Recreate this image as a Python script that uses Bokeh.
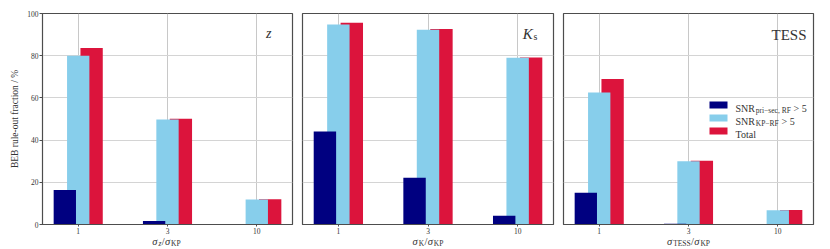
from bokeh.plotting import figure
from bokeh.models import Range1d, FixedTicker, ColumnDataSource, Label, BoxAnnotation
from bokeh.transform import dodge
from bokeh.layouts import row, column
from bokeh.embed import file_html
from bokeh.resources import INLINE

ratios = ["1", "3", "10"]
pri_sec_z = [16.4, 1.6, 0.1]
kp_rf_z = [80.0, 49.8, 11.8]
total_z = [83.6, 50.1, 12.0]
pri_sec_k = [44.1, 22.1, 4.1]
kp_rf_k = [94.8, 92.3, 79.0]
total_k = [95.6, 92.6, 79.1]
pri_sec_t = [15.0, 0.4, 0.1]
kp_rf_t = [62.6, 30.0, 6.8]
total_t = [68.9, 30.2, 6.9]
y_ticks = [0, 20, 40, 60, 80, 100]

NAVY = "#000080"
SKY = "#87CEEB"
CRIMSON = "#DC143C"
TXT = "#333333"
FONT = "Liberation Serif"

# approximate advance widths (em) for placing composed text pieces
WID = {"S": .556, "N": .722, "R": .667, "T": .611, "o": .5, "t": .278, "a": .444,
       "l": .278, " ": .25, ">": .564, "5": .5, "p": .5, "r": .333, "i": .278,
       "\u2212": .564, "s": .389, "e": .444, "c": .444, ",": .25, "F": .556,
       "K": .722, "P": .556, "E": .611, "/": .278, "\u03c3": .56, "z": .389}


def twidth(t, size):
    return sum(WID.get(ch, .5) for ch in t) * size


def compose(p, pieces, x, y, align="left", gap=0.0):
    total = sum(twidth(t, s) for t, s, st, dy in pieces) + gap * (len(pieces) - 1)
    cur = x - total / 2 if align == "center" else (x - total if align == "right" else x)
    for t, s, st, dy in pieces:
        p.add_layout(Label(x=cur, y=y + dy, x_units="screen", y_units="screen", text=t,
                           text_font=FONT, text_font_size=f"{s}px", text_font_style=st,
                           text_align="left", text_baseline="alphabetic", text_color=TXT))
        cur += twidth(t, s) + gap


def panel(pri, kp, tot, width, left, right, first):
    idx = list(range(len(ratios)))
    src = ColumnDataSource(dict(idx=idx, pri=pri, kp=kp, tot=tot))
    p = figure(width=width, height=236, x_range=Range1d(-0.4, 2.4), y_range=Range1d(0, 100),
               output_backend="svg", toolbar_location=None,
               min_border_left=left, min_border_right=right, min_border_top=13, min_border_bottom=12)
    p.background_fill_color = "white"
    p.outline_line_color = "#4d4d4d"
    p.outline_line_width = 1.2
    p.vbar(x=dodge("idx", 0.15, range=p.x_range), top="tot", width=0.25, source=src,
           fill_color=CRIMSON, line_color=None)
    p.vbar(x=dodge("idx", 0.0, range=p.x_range), top="kp", width=0.25, source=src,
           fill_color=SKY, line_color=None)
    p.vbar(x=dodge("idx", -0.15, range=p.x_range), top="pri", width=0.25, source=src,
           fill_color=NAVY, line_color=None)

    p.xaxis.ticker = FixedTicker(ticks=idx)
    p.xaxis.major_label_overrides = {i: r for i, r in enumerate(ratios)}
    p.yaxis.ticker = FixedTicker(ticks=y_ticks)
    p.xgrid.ticker = FixedTicker(ticks=idx)
    p.ygrid.ticker = FixedTicker(ticks=y_ticks)
    p.xgrid.grid_line_color = "#c8c8c8"
    p.ygrid.grid_line_color = "#d4d4d4"
    for g in (p.xgrid, p.ygrid):
        g.grid_line_width = 1
    for ax in (p.xaxis, p.yaxis):
        ax.axis_line_color = "#4d4d4d"
        ax.major_tick_line_color = "#4d4d4d"
        ax.minor_tick_line_color = None
        ax.major_label_text_font = FONT
        ax.major_label_text_font_size = "7.5px"
        ax.major_label_text_color = TXT
    p.xaxis.major_tick_in = 0
    p.xaxis.major_tick_out = 2
    p.xaxis.major_label_standoff = 1
    if first:
        p.yaxis.major_tick_in = 0
        p.yaxis.major_tick_out = 3
        p.yaxis.major_label_standoff = 1
        p.yaxis.axis_label = "BEB rule-out fraction / %"
        p.yaxis.axis_label_text_font = FONT
        p.yaxis.axis_label_text_font_size = "9.5px"
        p.yaxis.axis_label_text_font_style = "normal"
        p.yaxis.axis_label_text_color = TXT
        p.yaxis.axis_label_standoff = 4
    else:
        p.yaxis.visible = False
    return p


def caption(width):
    c = figure(width=width, height=13, x_range=Range1d(0, 1), y_range=Range1d(0, 1),
               x_axis_type=None, y_axis_type=None, output_backend="svg", toolbar_location=None,
               min_border_left=0, min_border_right=0, min_border_top=0, min_border_bottom=0)
    c.outline_line_color = None
    c.grid.visible = False
    return c


p1 = panel(pri_sec_z, kp_rf_z, total_z, 297, 42, 5, True)
p2 = panel(pri_sec_k, kp_rf_k, total_k, 261, 5, 5, False)
p3 = panel(pri_sec_t, kp_rf_t, total_t, 267, 5, 12, False)
c1, c2, c3 = caption(297), caption(261), caption(267)

# x-axis labels
compose(c1, [("\u03c3", 10.5, "italic", 0), ("z", 7.5, "italic", -2), ("/", 10.5, "normal", 0),
             ("\u03c3", 10.5, "italic", 0), ("KP", 7.5, "normal", -2)], 166, 8, "center", 0.3)
compose(c2, [("\u03c3", 10.5, "italic", 0), ("K", 7.5, "normal", -2), ("/", 10.5, "normal", 0),
             ("\u03c3", 10.5, "italic", 0), ("KP", 7.5, "normal", -2)], 130.5, 8, "center", 0.3)
compose(c3, [("\u03c3", 10.5, "italic", 0), ("TESS", 7.5, "normal", -2), ("/", 10.5, "normal", 0),
             ("\u03c3", 10.5, "italic", 0), ("KP", 7.5, "normal", -2)], 130, 8, "center", 0.3)

# panel tags
compose(p1, [("z", 14, "italic", 0)], 229, 191, "right")
compose(p2, [("K", 15, "italic", 0), ("s", 10, "normal", -2.5)], 235, 191, "right")
compose(p3, [("TESS", 15, "normal", 0)], 243, 190, "right")

# legend
for col, bot in ((NAVY, 116), (SKY, 103), (CRIMSON, 90)):
    p3.add_layout(BoxAnnotation(left=146, right=164, bottom=bot, top=bot + 7,
                                left_units="screen", right_units="screen",
                                bottom_units="screen", top_units="screen",
                                fill_color=col, fill_alpha=1, line_color=None, level="overlay"))

compose(p3, [("SNR", 10, "normal", 0), ("pri\u2212sec, RF", 7.5, "normal", -2.5),
             ("\u2009> 5", 10, "normal", 0)], 172, 116.5, gap=0.8)
compose(p3, [("SNR", 10, "normal", 0), ("KP\u2212RF", 7.5, "normal", -2.5),
             ("\u2009> 5", 10, "normal", 0)], 172, 103.5, gap=0.8)
compose(p3, [("Total", 10, "normal", 0)], 172, 90.5)

layout = column(row(p1, p2, p3, spacing=0), row(c1, c2, c3, spacing=0), spacing=0)
open("out.html", "w").write(file_html(layout, INLINE))
